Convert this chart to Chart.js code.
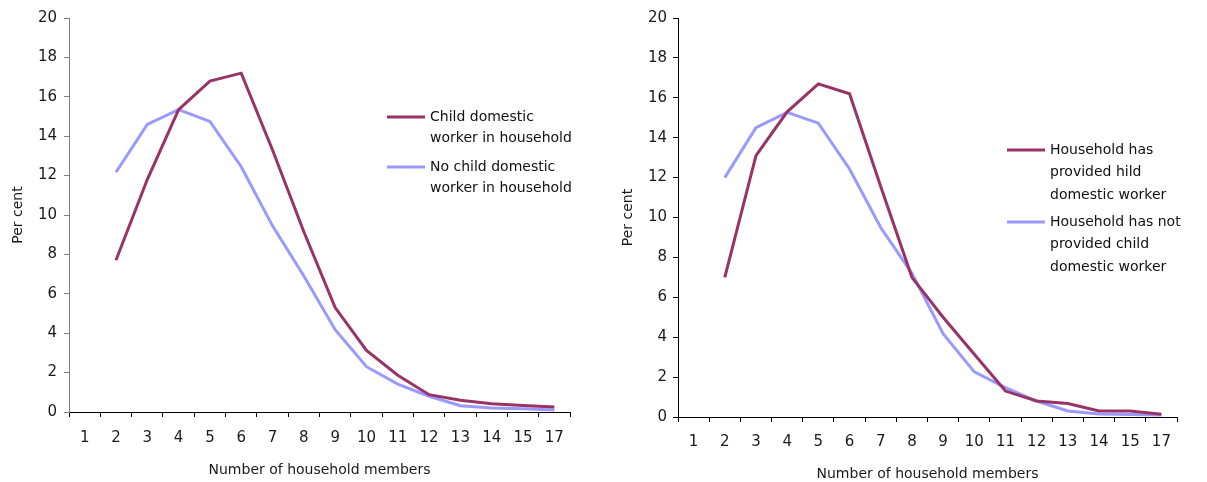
<!DOCTYPE html>
<html>
<head>
<meta charset="utf-8">
<script src="https://cdn.jsdelivr.net/npm/chart.js@4.4.1/dist/chart.umd.min.js"></script>
<style>
  html, body { margin: 0; padding: 0; background: #ffffff; }
  #wrap { position: relative; width: 1207px; height: 482px; overflow: hidden; }
  #left { position: absolute; left: 0; top: 0; }
  #right { position: absolute; left: 600px; top: 0; }
</style>
</head>
<body>
<div id="wrap">
  <canvas id="left" width="600" height="482"></canvas>
  <canvas id="right" width="607" height="482"></canvas>
</div>
<script>
// Household size categories (no 16-member households in the survey)
const householdSize = ['1', '2', '3', '4', '5', '6', '7', '8', '9', '10', '11', '12', '13', '14', '15', '17'];

// Distribution (%) by whether a child domestic worker lives in the household
const cdwInHousehold   = [null, 7.7, 11.8, 15.35, 16.8, 17.2, 13.3, 9.15, 5.3, 3.13, 1.87, 0.88, 0.6, 0.42, 0.33, 0.25];
const noCdwInHousehold = [null, 12.17, 14.6, 15.35, 14.75, 12.45, 9.45, 6.9, 4.18, 2.3, 1.42, 0.8, 0.32, 0.2, 0.16, 0.1];

// Distribution (%) by whether the household has sent a child out as a domestic worker
const providedCdw    = [null, 7.0, 13.1, 15.3, 16.7, 16.2, 11.55, 7.0, 5.0, 3.15, 1.3, 0.8, 0.68, 0.3, 0.3, 0.14];
const notProvidedCdw = [null, 12.0, 14.5, 15.27, 14.73, 12.43, 9.5, 7.2, 4.18, 2.26, 1.47, 0.8, 0.3, 0.15, 0.13, 0.1];

// Legend entries, one array of text lines per series
const leftLegend = [
  ['Child domestic', 'worker in household'],
  ['No child domestic', 'worker in household']
];
const rightLegend = [
  ['Household has', 'provided hild', 'domestic worker'],
  ['Household has not', 'provided child', 'domestic worker']
];

const yAxisTitle = 'Per cent';
const xAxisTitle = 'Number of household members';
const yMin = 0, yMax = 20, yStep = 2;

const MAROON = '#993366';
const LAVENDER = '#9999FF';
const FONT = "'DejaVu Sans', Verdana, sans-serif";

// Multi-line legend drawn beside the plot
const sideLegend = {
  id: 'sideLegend',
  afterDraw(chart, args, opts) {
    const ctx = chart.ctx;
    ctx.save();
    ctx.font = '14px ' + FONT;
    ctx.textBaseline = 'middle';
    ctx.textAlign = 'left';
    chart.data.datasets.forEach((ds, i) => {
      const y0 = opts.itemY[i];
      ctx.strokeStyle = ds.borderColor;
      ctx.lineWidth = 3;
      ctx.beginPath();
      ctx.moveTo(opts.lineX0, y0);
      ctx.lineTo(opts.lineX1, y0);
      ctx.stroke();
      ctx.fillStyle = '#111111';
      opts.lines[i].forEach((t, k) => {
        ctx.fillText(t, opts.textX, y0 + k * opts.lineHeight);
      });
    });
    ctx.restore();
  }
};

function makeChart(canvasId, series, legendLines, lay) {
  const datasets = series.map((s, i) => ({
    label: legendLines[i].join(' '),
    data: s,
    borderColor: i === 0 ? MAROON : LAVENDER,
    backgroundColor: i === 0 ? MAROON : LAVENDER,
    borderWidth: 3,
    pointRadius: 0,
    tension: 0,
    spanGaps: false
  }));
  // draw the lavender line first, maroon on top
  datasets.forEach((d, i) => { d.order = i === 0 ? 0 : 1; });

  return new Chart(document.getElementById(canvasId), {
    type: 'line',
    data: { labels: householdSize, datasets },
    plugins: [sideLegend],
    options: {
      responsive: false,
      animation: false,
      events: [],
      layout: { padding: { left: 0, right: lay.padRight, top: lay.padTop, bottom: 0 } },
      plugins: {
        legend: { display: false },
        tooltip: { enabled: false },
        sideLegend: {
          lines: legendLines,
          itemY: lay.itemY,
          lineX0: lay.lineX0,
          lineX1: lay.lineX1,
          textX: lay.textX,
          lineHeight: lay.lineHeight
        }
      },
      scales: {
        x: {
          type: 'category',
          offset: true,
          afterFit(scale) { scale.height = lay.xHeight; },
          grid: {
            display: true,
            offset: true,
            drawOnChartArea: false,
            drawTicks: true,
            tickLength: 5,
            color: '#000000',
            lineWidth: 1
          },
          border: { display: true, color: '#000000', width: 1 },
          ticks: {
            autoSkip: false,
            maxRotation: 0,
            padding: lay.xTickPad,
            color: '#1a1a1a',
            font: { family: FONT, size: 15 }
          },
          title: {
            display: true,
            text: xAxisTitle,
            color: '#1a1a1a',
            font: { family: FONT, size: 14, lineHeight: 1 },
            padding: { top: 0, bottom: lay.xTitlePad }
          }
        },
        y: {
          min: yMin,
          max: yMax,
          afterFit(scale) { scale.width = lay.yWidth; },
          grid: {
            display: true,
            drawOnChartArea: false,
            drawTicks: true,
            tickLength: 5,
            color: lay.yColor,
            lineWidth: 1
          },
          border: { display: true, color: lay.yColor, width: 1 },
          ticks: {
            stepSize: yStep,
            padding: lay.yTickPad,
            color: '#1a1a1a',
            font: { family: FONT, size: 15 }
          },
          title: {
            display: true,
            text: yAxisTitle,
            color: '#1a1a1a',
            font: { family: FONT, size: 14, lineHeight: 1 },
            padding: { top: lay.yTitlePad, bottom: 0 }
          }
        }
      }
    }
  });
}

makeChart('left', [cdwInHousehold, noCdwInHousehold], leftLegend, {
  padRight: 30, padTop: 18, xHeight: 70, yWidth: 69,
  xTickPad: 12, yTickPad: 7, xTitlePad: 5, yTitlePad: 11,
  yColor: '#808080',
  itemY: [117, 167], lineX0: 387, lineX1: 425, textX: 430, lineHeight: 21.5
});

makeChart('right', [providedCdw, notProvidedCdw], rightLegend, {
  padRight: 30, padTop: 18, xHeight: 65, yWidth: 78,
  xTickPad: 11, yTickPad: 6, xTitlePad: 1, yTitlePad: 21,
  yColor: '#000000',
  itemY: [150, 222], lineX0: 407, lineX1: 445, textX: 450, lineHeight: 22.5
});
</script>
</body>
</html>
